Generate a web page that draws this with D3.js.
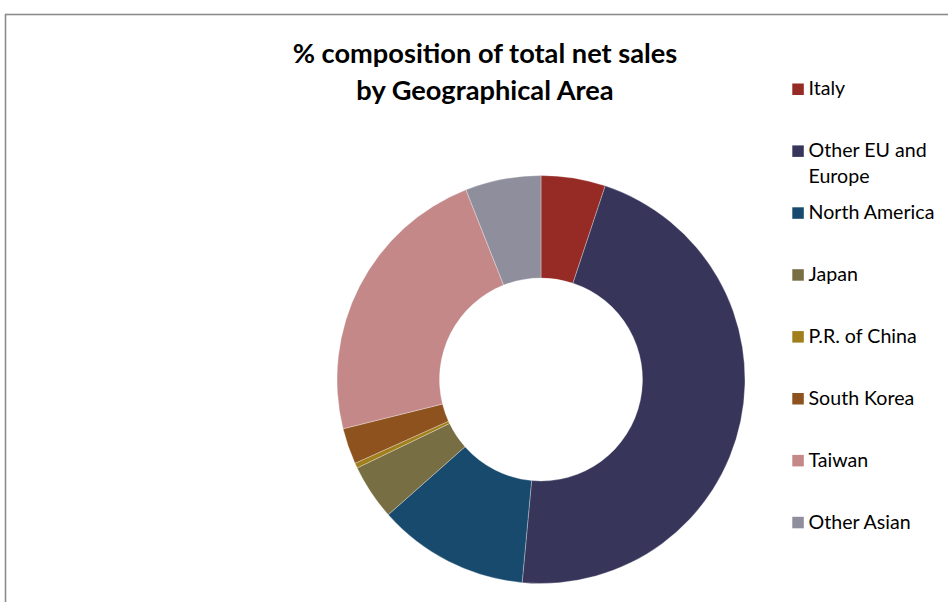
<!DOCTYPE html>
<html>
<head>
<meta charset="utf-8">
<script src="https://cdn.jsdelivr.net/npm/d3@7"></script>
<style>
  html, body { margin: 0; padding: 0; background: #fff; }
  svg { display: block; }
</style>
</head>
<body>
<svg id="chart" width="948" height="602"></svg>
<script>
// Share of total net sales by geographical area (%)
const areas = ["Italy", "Other EU and Europe", "North America", "Japan",
               "P.R. of China", "South Korea", "Taiwan", "Other Asian"];
const legendLines = [["Italy"], ["Other EU and", "Europe"], ["North America"], ["Japan"],
                     ["P.R. of China"], ["South Korea"], ["Taiwan"], ["Other Asian"]];
const shares = [5.1, 46.4, 12.0, 4.4, 0.4, 2.85, 22.9, 6.0];
const colors = ["#962a24", "#38355b", "#174a6c", "#786e43",
                "#a07f1c", "#8e521f", "#c48888", "#8f8e9c"];
const titleLines = ["% composition of total net sales", "by Geographical Area"];

const svg = d3.select("#chart");
const font = "Lato, 'Open Sans', sans-serif";

// chart frame (runs off the right and bottom edges)
svg.append("rect")
  .attr("x", 5.5).attr("y", 14.5)
  .attr("width", 1000).attr("height", 700)
  .attr("fill", "none")
  .attr("stroke", "#8c8c8c")
  .attr("stroke-width", 1.6);

// doughnut
const cx = 541, cy = 379.5, rOuter = 204, rInner = 101.5;
const pie = d3.pie().sort(null).value(d => d.v);
const arc = d3.arc().innerRadius(rInner).outerRadius(rOuter);
const data = areas.map((a, i) => ({ name: a, v: shares[i], c: colors[i] }));

svg.append("g")
  .attr("transform", `translate(${cx},${cy})`)
  .selectAll("path")
  .data(pie(data))
  .join("path")
  .attr("d", arc)
  .attr("fill", d => d.data.c)
  .attr("stroke", "#ffffff")
  .attr("stroke-opacity", 0.5)
  .attr("stroke-width", 0.6);

// title, sized so the first line spans its intended width
const title = svg.append("g").attr("font-family", font).attr("font-weight", 700)
  .attr("fill", "#000").attr("text-anchor", "middle");
const t1 = title.append("text").attr("x", 485).attr("y", 63).attr("font-size", 24).text(titleLines[0]);
const w1 = t1.node().getComputedTextLength();
const titleSize = 24 * 385 / w1;
t1.attr("font-size", titleSize);
title.append("text").attr("x", 485).attr("y", 99.5).attr("font-size", titleSize).text(titleLines[1]);

// legend
const leg = svg.append("g").attr("font-family", font).attr("fill", "#000");
const probe = leg.append("text").attr("font-size", 17).text("North America");
const legSize = 17 * 126 / probe.node().getComputedTextLength();
probe.remove();

const legTop = 83.5, legStep = 61.9, sq = 11.5;
legendLines.forEach((lines, i) => {
  const y = legTop + i * legStep;
  leg.append("rect").attr("x", 792.3).attr("y", y).attr("width", sq).attr("height", sq)
    .attr("fill", colors[i]);
  const t = leg.append("text").attr("x", 808.5).attr("y", y + 11.8).attr("font-size", legSize);
  lines.forEach((ln, j) => {
    t.append("tspan").attr("x", 808.5).attr("dy", j === 0 ? 0 : 25.5).text(ln);
  });
});
</script>
</body>
</html>
